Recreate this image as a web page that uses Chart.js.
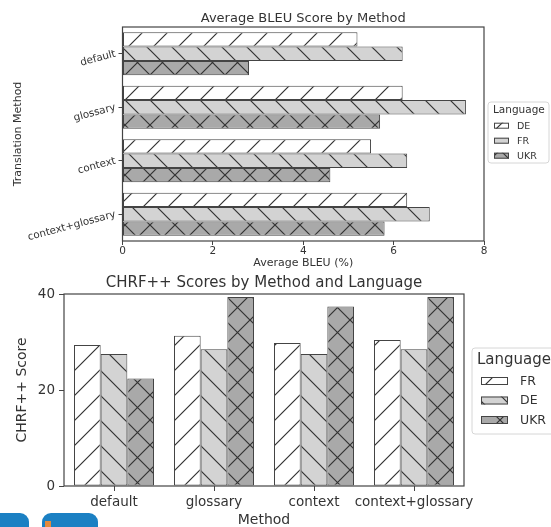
<!DOCTYPE html>
<html>
<head>
<meta charset="utf-8">
<script src="https://cdn.jsdelivr.net/npm/chart.js@4.4.0/dist/chart.umd.min.js"></script>
<style>
  html, body { margin: 0; padding: 0; background: #fff; }
  #wrap { position: relative; width: 551px; height: 527px; overflow: hidden; }
  #bleuChart { position: absolute; left: 0; top: 0; }
  #chrfChart { position: absolute; left: 0; top: 270px; }
  .logo { position: absolute; background: #1b80c3; }
</style>
</head>
<body>
<div id="wrap">
  <canvas id="bleuChart" width="551" height="270"></canvas>
  <canvas id="chrfChart" width="551" height="257"></canvas>
  <div class="logo" style="left:0;top:513px;width:29px;height:14px;border-top-right-radius:9px"></div>
  <div class="logo" style="left:42px;top:513px;width:56px;height:14px;border-radius:9px 9px 0 0"></div>
  <div class="logo" style="left:45px;top:521px;width:6px;height:6px;background:#e58a3c"></div>
</div>
<script>
const methods = ["default", "glossary", "context", "context+glossary"];

// top chart: average BLEU (%)
const bleuDE = [5.2, 6.2, 5.5, 6.3];
const bleuFR = [6.2, 7.6, 6.3, 6.8];
const bleuUKR = [2.8, 5.7, 4.6, 5.8];

// bottom chart: CHRF++
const chrfFR = [29.4, 31.3, 29.8, 30.4];
const chrfDE = [27.5, 28.5, 27.5, 28.5];
const chrfUKR = [22.4, 39.4, 37.4, 39.4];

const legendTitle = "Language";

Chart.defaults.font.family = "'DejaVu Sans', sans-serif";
Chart.defaults.color = "#333";

// matplotlib-like hatch fills
function hatch(bg, kind) {
  const P = 25;
  const c = document.createElement("canvas");
  c.width = P;
  c.height = P;
  const g = c.getContext("2d");
  g.fillStyle = bg;
  g.fillRect(0, 0, P, P);
  g.strokeStyle = "#333";
  g.lineWidth = 1.2;
  g.beginPath();
  if (kind === "/" || kind === "x") {
    g.moveTo(-2, P + 2); g.lineTo(P + 2, -2);
    g.moveTo(-2, 2); g.lineTo(2, -2);
    g.moveTo(P - 2, P + 2); g.lineTo(P + 2, P - 2);
  }
  if (kind === "\\" || kind === "x") {
    g.moveTo(-2, -2); g.lineTo(P + 2, P + 2);
    g.moveTo(P - 2, -2); g.lineTo(P + 2, 2);
    g.moveTo(-2, P - 2); g.lineTo(2, P + 2);
  }
  g.stroke();
  return g.createPattern(c, "repeat");
}

const white = "#ffffff";
const light = "#d3d3d3";
const dark = "#a9a9a9";

const frame = {
  id: "frame",
  afterDatasetsDraw(chart) {
    const { ctx, chartArea: a } = chart;
    ctx.save();
    ctx.strokeStyle = "#444";
    ctx.lineWidth = 1.2;
    ctx.strokeRect(a.left, a.top, a.right - a.left, a.bottom - a.top);
    ctx.restore();
  }
};

function boxLegend(o) {
  return {
    id: "boxLegend",
    afterDraw(chart) {
      const ctx = chart.ctx;
      ctx.save();
      ctx.fillStyle = "rgba(255,255,255,0.8)";
      ctx.strokeStyle = "#d6d6d6";
      ctx.lineWidth = 1;
      ctx.beginPath();
      ctx.roundRect(o.x, o.y, o.w, o.h, 3);
      ctx.fill();
      ctx.stroke();
      ctx.textAlign = "left";
      ctx.textBaseline = "middle";
      ctx.fillStyle = "#333";
      ctx.font = o.titleSize + "px 'DejaVu Sans'";
      ctx.fillText(legendTitle, o.titleX, o.titleY);
      ctx.font = o.size + "px 'DejaVu Sans'";
      chart.data.datasets.forEach((ds, i) => {
        const y = o.rowY[i];
        ctx.fillStyle = ds.backgroundColor;
        ctx.fillRect(o.px, y - o.ph / 2, o.pw, o.ph);
        ctx.strokeStyle = "#444";
        ctx.strokeRect(o.px + 0.5, y - o.ph / 2 + 0.5, o.pw - 1, o.ph - 1);
        ctx.fillStyle = "#333";
        ctx.fillText(ds.label, o.tx, y + 0.5);
      });
      ctx.restore();
    }
  };
}

const barStyle = { borderColor: "#444", borderWidth: 1, borderSkipped: false };

new Chart(document.getElementById("bleuChart"), {
  type: "bar",
  data: {
    labels: methods,
    datasets: [
      { label: "DE", data: bleuDE, backgroundColor: hatch(white, "/"), ...barStyle },
      { label: "FR", data: bleuFR, backgroundColor: hatch(light, "\\"), ...barStyle },
      { label: "UKR", data: bleuUKR, backgroundColor: hatch(dark, "x"), ...barStyle }
    ]
  },
  options: {
    responsive: false,
    animation: false,
    indexAxis: "y",
    categoryPercentage: 0.8,
    barPercentage: 1.0,
    layout: { padding: { left: 0, right: 67, top: 0, bottom: 0 } },
    plugins: {
      legend: { display: false },
      tooltip: { enabled: false },
      title: {
        display: true,
        fullSize: false,
        text: "Average BLEU Score by Method",
        font: { size: 13, weight: "normal" },
        color: "#333",
        padding: { top: 11, bottom: 0.4 }
      }
    },
    scales: {
      x: {
        type: "linear",
        min: 0,
        max: 8,
        ticks: { stepSize: 2, font: { size: 10.5 }, padding: 0 },
        grid: { drawOnChartArea: false, tickLength: 4, color: "#444" },
        border: { display: false },
        title: { display: true, text: "Average BLEU (%)", font: { size: 11 }, padding: 0 },
        afterFit(s) { s.height = 29; }
      },
      y: {
        type: "category",
        ticks: { font: { size: 10.3 }, minRotation: 15, maxRotation: 15, autoSkip: false, padding: 3 },
        grid: { offset: false, drawOnChartArea: false, tickLength: 4, color: "#444" },
        border: { display: false },
        title: { display: true, text: "Translation Method", font: { size: 11 }, padding: { top: 11.4 } },
        afterFit(s) { s.width = 122.5; }
      }
    }
  },
  plugins: [frame, boxLegend({
    x: 488, y: 102, w: 61, h: 61,
    titleX: 493, titleY: 110, titleSize: 10.5,
    rowY: [125.7, 140.7, 155.7],
    px: 494, pw: 15, ph: 6, tx: 517, size: 9.5
  })]
});

new Chart(document.getElementById("chrfChart"), {
  type: "bar",
  data: {
    labels: methods,
    datasets: [
      { label: "FR", data: chrfFR, backgroundColor: hatch(white, "/"), ...barStyle },
      { label: "DE", data: chrfDE, backgroundColor: hatch(light, "\\"), ...barStyle },
      { label: "UKR", data: chrfUKR, backgroundColor: hatch(dark, "x"), ...barStyle }
    ]
  },
  options: {
    responsive: false,
    animation: false,
    categoryPercentage: 0.8,
    barPercentage: 1.0,
    layout: { padding: { left: 0, right: 87, top: 0, bottom: 0 } },
    plugins: {
      legend: { display: false },
      tooltip: { enabled: false },
      title: {
        display: true,
        fullSize: false,
        text: "CHRF++ Scores by Method and Language",
        font: { size: 15, weight: "normal" },
        color: "#333",
        padding: { top: 4, bottom: 2 }
      }
    },
    scales: {
      x: {
        type: "category",
        ticks: { font: { size: 13.5 }, padding: 3, autoSkip: false, maxRotation: 0 },
        grid: { offset: false, drawOnChartArea: false, tickLength: 5, color: "#444" },
        border: { display: false },
        title: { display: true, text: "Method", font: { size: 14, lineHeight: 1 }, padding: 0 },
        afterFit(s) { s.height = 41; }
      },
      y: {
        type: "linear",
        min: 0,
        max: 40,
        ticks: { stepSize: 20, font: { size: 13.5 }, padding: 4 },
        grid: { drawOnChartArea: false, tickLength: 5, color: "#444" },
        border: { display: false },
        title: { display: true, text: "CHRF++ Score", font: { size: 14 }, padding: { top: 13.6 } },
        afterFit(s) { s.width = 64; }
      }
    }
  },
  plugins: [frame, boxLegend({
    x: 472, y: 78, w: 90, h: 86,
    titleX: 477, titleY: 90, titleSize: 15,
    rowY: [111, 130.5, 150],
    px: 481, pw: 27, ph: 8, tx: 520, size: 12.5
  })]
});
</script>
</body>
</html>
